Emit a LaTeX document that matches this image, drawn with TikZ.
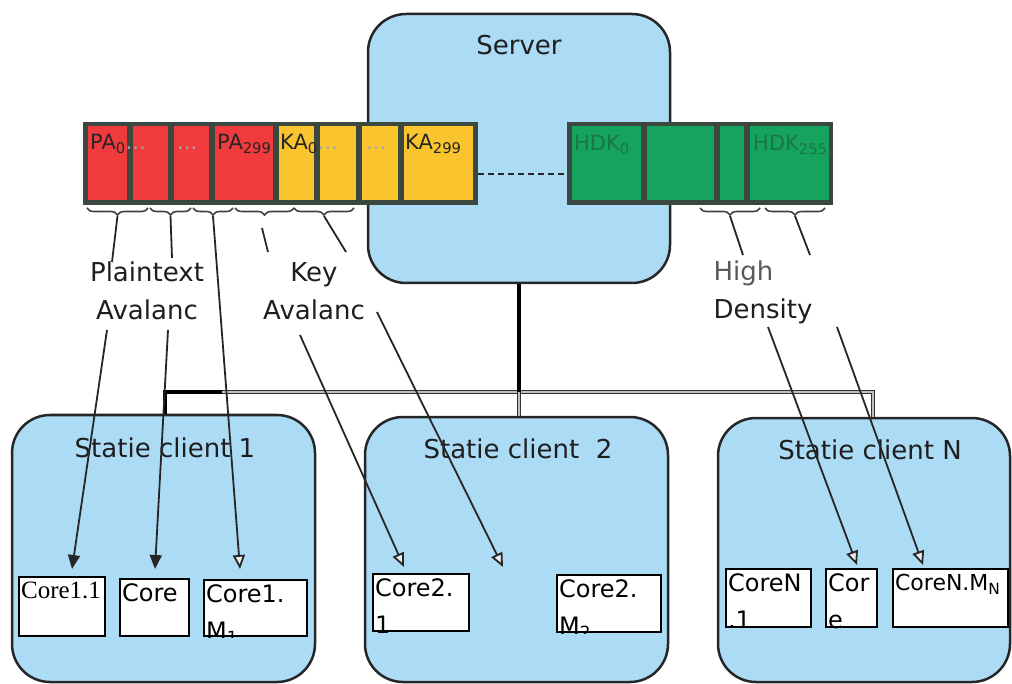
\documentclass[tikz,border=0pt]{standalone}
\usepackage{fontspec}
\setmainfont{DejaVu Sans}
\newfontfamily\serifcore{Liberation Serif}
\usetikzlibrary{arrows.meta,decorations.pathreplacing,fit}
\definecolor{boxblue}{RGB}{172,219,245}
\definecolor{pared}{RGB}{240,58,60}
\definecolor{kayellow}{RGB}{249,196,46}
\definecolor{hdgreen}{RGB}{22,163,94}
\definecolor{bardark}{RGB}{58,72,64}
\definecolor{hdtext}{RGB}{25,120,65}
\definecolor{lbltext}{RGB}{30,30,30}
\tikzset{
  station/.style={draw=black!85, line width=2.5pt, fill=boxblue, rounded corners=38pt, inner sep=0pt},
  title/.style={text=lbltext, font=\fontsize{26}{30}\selectfont},
  lbl/.style={text=lbltext, align=center, font=\fontsize{26}{38}\selectfont},
  barframe/.style={fill=bardark, inner sep=0pt},
  pacell/.style={fill=pared, inner sep=0pt},
  kacell/.style={fill=kayellow, inner sep=0pt},
  hdcell/.style={fill=hdgreen, inner sep=0pt},
  celltext/.style={anchor=west, inner sep=0pt, text=black!85, font=\fontsize{21}{24}\selectfont},
  faint/.style={text=black!35},
  bracest/.style={draw=black!75, line width=1.6pt, decorate, decoration={brace, mirror, amplitude=7pt}},
  feed/.style={draw=black!85, line width=1.8pt},
  solidarr/.style={feed, -{Triangle[length=14pt,width=12pt]}},
  openarr/.style={feed, -{Triangle[length=14pt,width=12pt,fill=black!8]}},
  busthick/.style={draw=black, line width=4pt},
  busdouble/.style={draw=black!80, line width=1pt, double=black!25, double distance=2.2pt},
  corebox/.style={draw=black, line width=2.2pt, fill=white, inner sep=0pt},
  coretext/.style={anchor=north west, align=left, inner xsep=3pt, inner ysep=6pt, font=\fontsize{24}{37}\selectfont},
}
\newcommand\mkcore[4]{%
  \node[corebox, fit={#2 #3}] (#1) {};
  \begin{scope}
    \clip (#1.south west) rectangle (#1.north east);
    \node[coretext] at (#1.north west) {#4};
  \end{scope}}
\begin{document}
\begin{tikzpicture}[x=1pt,y=-1pt]
\useasboundingbox[fill=white] (0,0) rectangle (1012,684);

% server
\node[station, fit={(368,14) (670,283)}] (server) {};
\node[title] (servertitle) at (519,45) {Server};

% red / yellow bar
\node[barframe, fit={(83,122) (478,205)}] (bar1) {};
\node[pacell, fit={(88,126) (127,200)}] (pa1) {};
\node[pacell, fit={(133,126) (168,200)}] (pa2) {};
\node[pacell, fit={(174,126) (209,200)}] (pa3) {};
\node[pacell, fit={(215,126) (273,200)}] (pa4) {};
\node[kacell, fit={(279,126) (314,200)}] (ka1) {};
\node[kacell, fit={(320,126) (356,200)}] (ka2) {};
\node[kacell, fit={(362,126) (398,200)}] (ka3) {};
\node[kacell, fit={(404,126) (473,200)}] (ka4) {};
\node[celltext] (t1) at (90,144) {PA\textsubscript{0}\textcolor{black!35}{...}};
\node[celltext, faint] (t2) at (177,148) {...};
\node[celltext] (t3) at (217,144) {PA\textsubscript{299}};
\node[celltext] (t4) at (280,144) {KA\textsubscript{0}\textcolor{black!35}{...}};
\node[celltext, faint] (t5) at (366,148) {...};
\node[celltext] (t6) at (405,144) {KA\textsubscript{299}};

% green bar
\node[barframe, fit={(567,122) (833,205)}] (bar2) {};
\node[hdcell, fit={(572,126) (641,200)}] (hd1) {};
\node[hdcell, fit={(647,126) (714,200)}] (hd2) {};
\node[hdcell, fit={(720,126) (744,200)}] (hd3) {};
\node[hdcell, fit={(750,126) (829,200)}] (hd4) {};
\node[celltext, text=hdtext] (t7) at (574,145) {HDK\textsubscript{0}};
\node[celltext, text=hdtext] (t8) at (753,145) {HDK\textsubscript{255}};

\draw[feed, line width=2pt, dash pattern=on 6pt off 4pt] (bar1.east |- 0,174) -- (bar2.west |- 0,174);

% braces
\draw[bracest] (87,208) -- (148,208);
\draw[bracest] (150,208) -- (191,208);
\draw[bracest] (193,208) -- (233,208);
\draw[bracest] (235,208) -- (294,208);
\draw[bracest] (294,208) -- (354,208);
\draw[bracest] (700,208) -- (760,208);
\draw[bracest] (765,208) -- (825,208);
\coordinate (b1) at (117.5,216);
\coordinate (b2) at (170.5,216);
\coordinate (b3) at (213,216);
\coordinate (b4) at (262,228);
\coordinate (b5) at (324,216);
\coordinate (b6) at (730,216);
\coordinate (b7) at (795,216);

% bus
\coordinate (busL) at (165,392);
\coordinate (busM) at (519,392);
\coordinate (busR) at (873,392);
\coordinate (busK) at (222,392);

% clients
\node[station, fit={(12,415) (315,682)}] (c1) {};
\node[station, fit={(365,417) (668,682)}] (c2) {};
\node[station, fit={(718,418) (1010,682)}] (cN) {};
\draw[busdouble] (busL) -- (busR) -- (busR |- cN.north);
\draw[busdouble] (busM) -- (busM |- c2.north);
\draw[busthick] (server.south) -- (busM);
\draw[busthick] (busK) -- (busL) -- (busL |- c1.north);

\node[title] (c1title) at (165,448) {Statie client 1};
\node[title] (c2title) at (518,449) {Statie client\ \ 2};
\node[title] (cNtitle) at (870,450) {Statie client N};

% cores
\mkcore{k11}{(19,577)}{(105,636)}{{\serifcore\fontsize{25}{37}\selectfont Core1.1}}
\mkcore{k12}{(120,579)}{(189,636)}{Core}
\mkcore{k13}{(204,580)}{(307,636)}{Core1.\\M\textsubscript{1}}
\mkcore{k21}{(373,574)}{(469,631)}{Core2.\\1}
\mkcore{k22}{(557,575)}{(661,632)}{Core2.\\M\textsubscript{2}}
\mkcore{kN1}{(726,569)}{(811,627)}{CoreN\\.1}
\mkcore{kN2}{(826,569)}{(877,627)}{Cor\\e}
\mkcore{kN3}{(893,569)}{(1008,627)}{\fontsize{22}{37}\selectfont CoreN.M\textsubscript{N}}

% labels
\node[lbl] (ptlbl) at (147,291) {Plaintext\\Avalanc};
\node[lbl] (kalbl) at (314,291) {Key\\Avalanc};
\node[lbl, align=left, anchor=west] (hdlbl) at (710,292) {\textcolor{black!65}{High}\\Density};

% connector points
\coordinate (s1) at (112,262);
\coordinate (s2) at (172,258);
\coordinate (s4) at (268,252);
\coordinate (s5) at (346,252);
\coordinate (s6) at (743,255);
\coordinate (s7) at (810,255);
\coordinate (r1) at (107,330);
\coordinate (r2) at (168,330);
\coordinate (r4) at (300,335);
\coordinate (r5) at (377,312);
\coordinate (r6) at (768,327);
\coordinate (r7) at (837,327);
\coordinate (e1) at (72,569);
\coordinate (e2) at (155,569);
\coordinate (e3) at (240,569);
\coordinate (e4) at (404,567);
\coordinate (e5) at (503,567);
\coordinate (e6) at (857,565);
\coordinate (e7) at (923,565);

\draw[feed] (b1) -- (s1);
\draw[feed] (b2) -- (s2);
\draw[feed] (b4) -- (s4);
\draw[feed] (b5) -- (s5);
\draw[feed] (b6) -- (s6);
\draw[feed] (b7) -- (s7);
\draw[solidarr] (r1) -- (e1);
\draw[solidarr] (r2) -- (e2);
\draw[openarr] (b3) -- (e3);
\draw[openarr] (r4) -- (e4);
\draw[openarr] (r5) -- (e5);
\draw[openarr] (r6) -- (e6);
\draw[openarr] (r7) -- (e7);
\end{tikzpicture}
\end{document}
